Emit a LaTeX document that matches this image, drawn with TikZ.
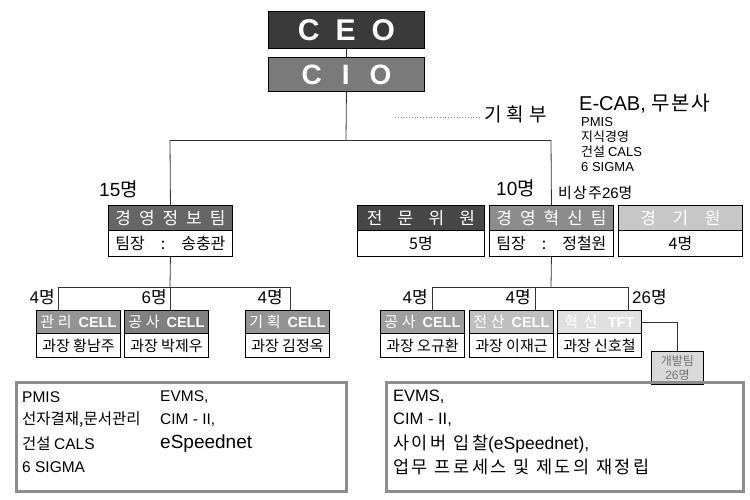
\documentclass[tikz,border=0pt]{standalone}
\usepackage{fontspec}
\setmainfont{Noto Sans CJK KR}
\newfontfamily\lat{Liberation Sans}
\newfontfamily\kw[LetterSpace=8]{Noto Sans CJK KR}
\newfontfamily\kwm[LetterSpace=15]{Noto Sans CJK KR}
\newfontfamily\kww[LetterSpace=26]{Noto Sans CJK KR}
\newcommand\spread[2]{\makebox[#1pt]{#2}}
\newcommand\cellw{\lat\bfseries\fontsize{14.5}{16}\selectfont}
\definecolor{ceoc}{HTML}{3A3A3A}
\definecolor{cioc}{HTML}{7A7A7A}
\begin{document}
\begin{tikzpicture}[x=1pt,y=-1pt,
  box/.style={draw=black, line width=0.9pt, inner sep=0pt, anchor=north west, font=\fontsize{15}{17}\selectfont},
  hdr/.style={box, fill=#1, text=white, font=\fontsize{17}{18}\selectfont},
  chdr/.style={box, fill=#1, text=white, font=\fontsize{15}{17}\selectfont},
  lbl/.style={inner sep=0pt, font=\fontsize{17}{18}\selectfont},
  txt/.style={inner sep=0pt, anchor=west, font=\fontsize{15.5}{18}\selectfont},
  conn/.style={draw=black!80, line width=0.8pt},
  big/.style={draw=black!45, line width=3pt, anchor=north west, inner sep=0pt}]
\useasboundingbox (0,0) rectangle (750,499);
% top
\node[box, fill=ceoc, minimum width=156, minimum height=37, text=white, font=\lat\bfseries\fontsize{30}{30}\selectfont] (ceo) at (268,11) {C\hspace{16pt}E\hspace{16pt}O};
\node[box, fill=cioc, minimum width=156, minimum height=34, text=white, font=\lat\bfseries\fontsize{28}{28}\selectfont] (cio) at (268,57) {C\hspace{20pt}I\hspace{20pt}O};
\draw[conn] (ceo.south) -- (cio.north);
% right notes
\node[txt, font=\kw\fontsize{20}{22}\selectfont] (ecab) at (579,104) {{\lat E-CAB,} 무본사};
\node[txt, font=\kww\fontsize{19}{20}\selectfont] (plan) at (484,114) {기획부};
\node[inner sep=0pt, anchor=north west, align=left, font=\fontsize{13}{15}\selectfont] (plist) at (581,117) {{\lat PMIS}\\지식경영\\건설 {\lat CALS}\\{\lat 6 SIGMA}};
\coordinate (dotS) at (395,117);
\coordinate (dotE) at (480,117);
\draw[dotted, gray, line width=0.8pt] (dotS) -- (dotE);
% second level
\node[hdr=black!60, minimum width=124, minimum height=25] (mh) at (108,205) {\spread{110}{경\hfill 영\hfill 정\hfill 보\hfill 팀}};
\node[box, minimum width=124, minimum height=26, font=\fontsize{16}{18}\selectfont] (mb) at (108,230) {\spread{110}{팀장\hfill:\hfill 송충관}};
\node[hdr=black!72, minimum width=127, minimum height=25] (jh) at (357,205) {\spread{108}{전\hfill 문\hfill 위\hfill 원}};
\node[box, minimum width=127, minimum height=26, font=\fontsize{16}{18}\selectfont] (jb) at (357,230) {5명};
\node[hdr=black!45, minimum width=124, minimum height=25] (hh) at (489,205) {\spread{110}{경\hfill 영\hfill 혁\hfill 신\hfill 팀}};
\node[box, minimum width=124, minimum height=26, font=\fontsize{16}{18}\selectfont] (hb) at (489,230) {\spread{110}{팀장\hfill:\hfill 정철원}};
\node[hdr=black!22, minimum width=124, minimum height=25] (gh) at (618,205) {\spread{80}{경\hfill 기\hfill 원}};
\node[box, minimum width=124, minimum height=26, font=\fontsize{16}{18}\selectfont] (gb) at (618,230) {4명};
\node[lbl, anchor=west, font=\fontsize{19}{20}\selectfont] (n15) at (99,189) {{\lat 15}명};
\node[lbl, anchor=west, font=\fontsize{19}{20}\selectfont] (n10) at (496,188) {{\lat 10}명};
\node[lbl, anchor=west, font=\kw\fontsize{15}{17}\selectfont] (n26a) at (558,193) {비상주{\lat 26}명};
% main bus
\coordinate (busC) at (346,140);
\coordinate (busL) at (170,140);
\coordinate (busR) at (551,140);
\draw[conn] (cio.south) -- (busC);
\draw[conn] (busL) -- (busR);
\draw[conn] (busL) -- (mh.north);
\draw[conn] (busR) -- (hh.north);
% left cells
\node[chdr=black!42, minimum width=84, minimum height=23] (c1h) at (36,310) {\spread{76}{관\hfill 리\hfill\hfill{\cellw CELL}}};
\node[box, minimum width=84, minimum height=24] (c1b) at (36,333) {과장 황남주};
\node[chdr=black!50, minimum width=84, minimum height=23] (c2h) at (124,310) {\spread{76}{공\hfill 사\hfill\hfill{\cellw CELL}}};
\node[box, minimum width=84, minimum height=24] (c2b) at (124,333) {과장 박제우};
\node[chdr=black!42, minimum width=84, minimum height=23] (c3h) at (245,310) {\spread{76}{기\hfill 획\hfill\hfill{\cellw CELL}}};
\node[box, minimum width=84, minimum height=24] (c3b) at (245,333) {과장 김정옥};
\coordinate (lbC) at (170,287);
\coordinate (lbL) at (58,287);
\coordinate (lbR) at (290,287);
\coordinate (c1in) at (58,310);
\coordinate (c3in) at (290,310);
\coordinate (c2in) at (170,310);
\node[lbl, anchor=south east] (l1) at (55,305) {{\lat 4}명};
\node[lbl, anchor=south east] (l2) at (167,305) {{\lat 6}명};
\node[lbl, anchor=south east] (l3) at (283,305) {{\lat 4}명};
\draw[conn] (mb.south) -- (lbC);
\draw[conn] (lbL) -- (lbR);
\draw[conn] (lbL) -- (c1in);
\draw[conn] (lbC) -- (c2in);
\draw[conn] (lbR) -- (c3in);
% right cells
\node[chdr=black!38, minimum width=84, minimum height=23] (r1h) at (380,310) {\spread{76}{공\hfill 사\hfill\hfill{\cellw CELL}}};
\node[box, minimum width=84, minimum height=24] (r1b) at (380,333) {과장 오규환};
\node[chdr=black!25, minimum width=84, minimum height=23] (r2h) at (469,310) {\spread{76}{전\hfill 산\hfill\hfill{\cellw CELL}}};
\node[box, minimum width=84, minimum height=24] (r2b) at (469,333) {과장 이재근};
\node[chdr=black!12, minimum width=84, minimum height=23] (r3h) at (557,310) {\spread{70}{혁\hfill 신\hfill\hfill{\cellw TFT}}};
\node[box, minimum width=84, minimum height=24] (r3b) at (557,333) {과장 신호철};
\coordinate (rbC) at (551,287);
\coordinate (rbL) at (432,287);
\coordinate (rbM) at (535,287);
\coordinate (rbR) at (628,287);
\coordinate (r1in) at (432,310);
\coordinate (r2in) at (535,310);
\coordinate (r3in) at (628,310);
\node[lbl, anchor=south east] (rl1) at (428,305) {{\lat 4}명};
\node[lbl, anchor=south east] (rl2) at (531,305) {{\lat 4}명};
\node[lbl, anchor=south west] (rl3) at (632,305) {{\lat 26}명};
\draw[conn] (hb.south) -- (rbC);
\draw[conn] (rbL) -- (rbR);
\draw[conn] (rbL) -- (r1in);
\draw[conn] (rbM) -- (r2in);
\draw[conn] (rbR) -- (r3in);
\node[box, fill=black!15, text=black!55, minimum width=52, minimum height=33, align=center, font=\fontsize{12}{14}\selectfont] (dev) at (651,351) {개발팀\\{\lat 26}명};
\draw[conn] (r3h.east) -| (dev.north);
% bottom boxes
\node[big, minimum width=330, minimum height=109] (bl) at (15,381) {};
\node[txt] (b1) at (22,397) {\lat PMIS};
\node[txt] (b2) at (22,420) {선자결재,문서관리};
\node[txt] (b3) at (22,444) {건설 {\lat CALS}};
\node[txt] (b4) at (22,467) {\lat 6 SIGMA};
\node[txt] (b5) at (160,397) {\lat EVMS,};
\node[txt] (b6) at (160,420) {\lat CIM - II,};
\node[txt, font=\lat\fontsize{19}{20}\selectfont] (b7) at (160,444) {eSpeednet};
\node[big, minimum width=357, minimum height=109] (br) at (385,381) {};
\node[txt, font=\lat\fontsize{16.5}{18}\selectfont] (d1) at (393,397) {EVMS,};
\node[txt, font=\lat\fontsize{16.5}{18}\selectfont] (d2) at (393,420) {CIM - II,};
\node[txt, font=\kwm\fontsize{17.5}{19}\selectfont] (d3) at (393,444) {사이버 입찰{\lat (eSpeednet),}};
\node[txt, font=\kwm\fontsize{17.5}{19}\selectfont] (d4) at (393,467) {업무 프로세스 및 제도의 재정립};
\end{tikzpicture}
\end{document}
